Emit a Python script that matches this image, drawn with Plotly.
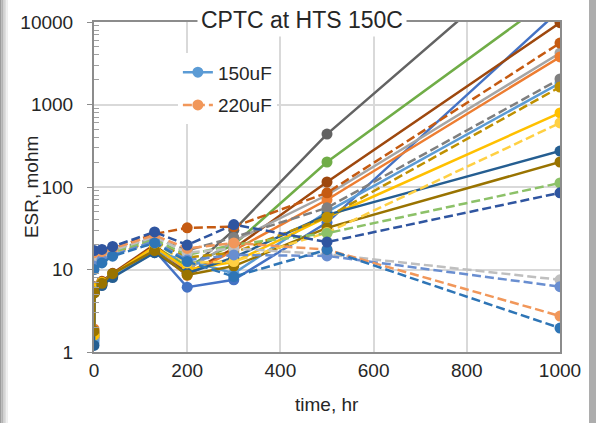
import plotly.graph_objects as go

# ---------------- data ----------------
hours = [0, 1, 17, 40, 130, 200, 300, 500, 1000]

# 150uF parts (solid lines)
c150_a = [1.5, 5.8, 6.8, 8.5, 18, 9.5, 30, 438, 120000]
c150_b = [1.6, 6.0, 7.0, 8.8, 19, 11, 20, 201, 23000]
c150_c = [1.4, 5.5, 6.6, 8.3, 17, 6.1, 7.5, 37, 14000]
c150_d = [1.7, 6.2, 7.2, 9.0, 20, 9.0, 18, 115, 9800]
c150_e = [1.5, 5.6, 6.9, 8.6, 18, 10, 22, 80, 4200]
c150_f = [1.9, 5.4, 6.5, 8.2, 17, 8.5, 17, 70, 3770]
c150_g = [1.3, 5.7, 6.7, 8.4, 16, 13, 9, 50, 1820]
c150_h = [1.6, 5.9, 7.0, 8.7, 19, 10, 12.3, 43, 790]
c150_i = [1.2, 5.3, 6.4, 8.0, 16, 9.0, 14, 46, 273]
c150_j = [1.8, 5.2, 6.8, 8.9, 17, 8.6, 11, 32, 201]

# 220uF parts (dashed lines)
c220_a = [15, None, 16, 18, 27, 32, 33, 85, 5560]
c220_b = [13, None, 15, 17, 24, 17, 24.5, 56, 2040]
c220_c = [12, None, 14, 16, 22, 14, 16, 43, 1630]
c220_d = [11, None, 13, 15.5, 21, 12, 12.5, 28, 597]
c220_e = [12.5, None, 14, 16.5, 23, 15, 20, 27.5, 112]
c220_f = [14, None, 15, 17, 25, 16, 18, 15.3, 7.5]
c220_g = [11, None, 13, 15, 22, 13, 15, 14.6, 6.2]
c220_h = [16, None, 16.5, 18, 26, 18, 21, 17.4, 2.73]
c220_i = [10, None, 12, 14.5, 21, 12.5, 8.2, 17.4, 1.95]
c220_j = [17, None, 17.5, 19, 28.5, 19.8, 35, 21.5, 85]

legend_names = ["150uF", "220uF"]
y_tick_vals = [1, 10, 100, 1000, 10000]
y_tick_text = ["1", "10", "100", "1000", "10000"]
x_tick_vals = [0, 200, 400, 600, 800, 1000]

title_text = "CPTC at HTS 150C"
x_title = "time, hr"
y_title = "ESR, mohm"

# ---------------- styles ----------------
solid_series = [c150_a, c150_b, c150_c, c150_d, c150_e, c150_f, c150_g, c150_h, c150_i, c150_j]
solid_colors = ["#636363", "#70AD47", "#4472C4", "#9E480E", "#A5A5A5", "#ED7D31",
                "#5B9BD5", "#FFC000", "#255E91", "#997300"]
solid_legend_idx = 6

dash_series = [c220_a, c220_b, c220_c, c220_d, c220_e, c220_f, c220_g, c220_h, c220_i, c220_j]
dash_colors = ["#C55A11", "#7F7F7F", "#BF9000", "#FFD043", "#8CC168", "#BFBFBF",
               "#698ED0", "#F1975A", "#2E75B6", "#2F55A0"]
dash_legend_idx = 7

FONT = "Liberation Sans, Arial, sans-serif"
TXT = "#262626"

fig = go.Figure()

for i, (vals, col) in enumerate(zip(solid_series, solid_colors)):
    fig.add_trace(go.Scatter(
        x=hours, y=vals, mode="lines+markers",
        line=dict(color=col, width=2.5),
        marker=dict(color=col, size=11),
        name=legend_names[0], legendgroup="g150",
        showlegend=(i == solid_legend_idx), connectgaps=True,
    ))

for i, (vals, col) in enumerate(zip(dash_series, dash_colors)):
    fig.add_trace(go.Scatter(
        x=hours, y=vals, mode="lines+markers",
        line=dict(color=col, width=2.5, dash="9px,4px"),
        marker=dict(color=col, size=11),
        name=legend_names[1], legendgroup="g220",
        showlegend=(i == dash_legend_idx), connectgaps=True,
    ))

# minor tick positions (2..9 within each decade) for the inside minor ticks
minor_vals = [m * d for d in y_tick_vals[:-1] for m in range(2, 10)]

axis_line = "#8C8C8C"
grid = "#D9D9D9"

fig.update_layout(
    width=596, height=423,
    margin=dict(l=94, r=36, t=22, b=71, autoexpand=False),
    paper_bgcolor="white", plot_bgcolor="white",
    font=dict(family=FONT, size=19, color=TXT),
    showlegend=True,
    legend=dict(
        x=0.18, y=0.905, xanchor="left", yanchor="top",
        bgcolor="white", borderwidth=0,
        font=dict(family=FONT, size=19, color=TXT),
        traceorder="grouped", tracegroupgap=5,
    ),
    xaxis=dict(
        range=[0, 1000], tickvals=x_tick_vals,
        showgrid=True, gridcolor=grid, gridwidth=1.5,
        showline=True, linecolor=axis_line, linewidth=2, mirror=True,
        ticks="", zeroline=False,
        tickfont=dict(family=FONT, size=19, color=TXT),
    ),
    yaxis=dict(
        type="log", range=[0, 4],
        tickvals=y_tick_vals, ticktext=y_tick_text,
        showgrid=True, gridcolor=grid, gridwidth=1.5,
        showline=True, linecolor=axis_line, linewidth=2, mirror=True,
        ticks="outside", ticklen=5, tickcolor=axis_line, tickwidth=1,
        ticklabelstandoff=10,
        minor=dict(tickmode="array", tickvals=minor_vals, ticks="inside",
                   ticklen=5, tickcolor="#A0A0A0", tickwidth=1, showgrid=False),
        zeroline=False,
        tickfont=dict(family=FONT, size=19, color=TXT),
    ),
)

# axis titles and chart title
fig.add_annotation(text=x_title, xref="paper", yref="paper", x=0.5, y=-0.16,
                   xanchor="center", yanchor="middle", showarrow=False,
                   font=dict(family=FONT, size=19, color=TXT))
fig.add_annotation(text=y_title, xref="paper", yref="paper", x=-0.135, y=0.5,
                   xanchor="center", yanchor="middle", showarrow=False, textangle=-90,
                   font=dict(family=FONT, size=19, color=TXT))
fig.add_annotation(text=title_text, xref="paper", yref="paper", x=0.446, y=1.006,
                   xanchor="center", yanchor="middle", showarrow=False,
                   bgcolor="white", borderpad=3,
                   font=dict(family=FONT, size=23, color=TXT))

# chart-area shadow on the left and right edges
px = 1 / 466.0
left0 = -94 * px
shades = ["#9C9C9C", "#B4B4B4", "#CACACA", "#DEDEDE", "#EEEEEE"]
for k, c in enumerate(shades):
    fig.add_shape(type="rect", xref="paper", yref="paper",
                  x0=left0 + k * 1.6 * px, x1=left0 + (k + 1) * 1.6 * px,
                  y0=-71 / 330.0, y1=1 + 22 / 330.0,
                  fillcolor=c, line=dict(width=0), layer="above")
fig.add_shape(type="rect", xref="paper", yref="paper",
              x0=1 + 29 * px, x1=1 + 36 * px, y0=-71 / 330.0, y1=1 + 22 / 330.0,
              fillcolor="#ADADAD", line=dict(width=0), layer="above")

fig.write_html("out.html", config={"displayModeBar": False},
               post_script="document.body.style.margin='0';")
